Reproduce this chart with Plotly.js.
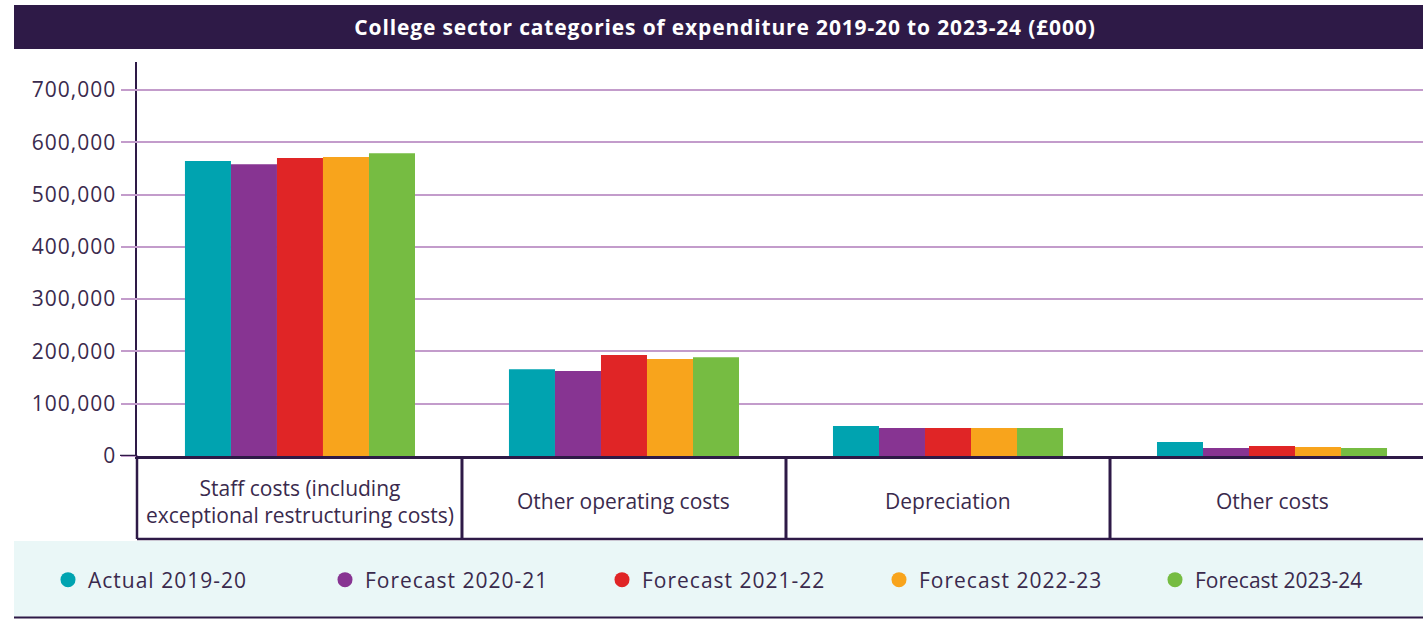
<!DOCTYPE html>
<html>
<head>
<meta charset="utf-8">
<script src="https://cdn.plot.ly/plotly-3.0.1.min.js"></script>
<style>
  html, body { margin: 0; padding: 0; background: #ffffff; }
  #chart { width: 1423px; height: 619px; }
  .legendtext { letter-spacing: 1px; }
  .ytick text { letter-spacing: 1px; }
  .yaxislayer-above { transform: translateX(3px); }
  .gtitle { letter-spacing: 0.85px; }
</style>
</head>
<body>
<div id="chart"></div>
<script>
// ---- data ----
const categories = [
  "Staff costs (including<br>exceptional restructuring costs)",
  "Other operating costs",
  "Depreciation",
  "Other costs"
];
const seriesNames = ["Actual 2019-20", "Forecast 2020-21", "Forecast 2021-22", "Forecast 2022-23", "Forecast 2023-24"];
const actual2019_20   = [564000, 166000, 57400, 26800];
const forecast2020_21 = [558000, 162500, 53500, 15300];
const forecast2021_22 = [570000, 193000, 53500, 19000];
const forecast2022_23 = [572000, 185500, 53500, 17200];
const forecast2023_24 = [579000, 189000, 53500, 15300];
const yTickValues = [0, 100000, 200000, 300000, 400000, 500000, 600000, 700000];

// ---- styles ----
const colors = ["#00a3b0", "#873492", "#e02526", "#f8a41c", "#76bc42"];
const dark = "#2e1a47";
const textColor = "#3a2a4d";
const gridColor = "#c39ccb";
const FONT = "'Open Sans', 'Noto Sans', sans-serif";

const seriesValues = [actual2019_20, forecast2020_21, forecast2021_22, forecast2022_23, forecast2023_24];

const traces = [];
seriesValues.forEach((vals, i) => {
  traces.push({
    type: "bar",
    x: categories,
    y: vals,
    name: seriesNames[i],
    marker: { color: colors[i], line: { width: 0 } },
    showlegend: false,
    hoverinfo: "skip"
  });
});
// legend-only circle markers (last one in a second legend so the row fits the page)
seriesValues.forEach((vals, i) => {
  traces.push({
    type: "scatter",
    mode: "markers",
    x: [null],
    y: [null],
    name: seriesNames[i],
    marker: { color: colors[i], size: 15, symbol: "circle" },
    showlegend: true,
    legend: i < 4 ? "legend" : "legend2",
    hoverinfo: "skip"
  });
});

const plotLeft = 137, plotRight = 1423, plotTop = 62, plotBottom = 456;
const pw = plotRight - plotLeft, ph = plotBottom - plotTop;
const px2x = p => (p - plotLeft) / pw;
const px2y = p => (plotBottom - p) / ph;

const shapes = [
  // title bar
  { type: "rect", xref: "paper", yref: "paper", x0: px2x(14), x1: 1, y0: px2y(49), y1: px2y(5),
    fillcolor: dark, line: { width: 0 }, layer: "below" },
  // legend panel
  { type: "rect", xref: "paper", yref: "paper", x0: px2x(14), x1: 1, y0: px2y(617), y1: px2y(541),
    fillcolor: "#eaf7f7", line: { width: 0 }, layer: "below" },
  { type: "line", xref: "paper", yref: "paper", x0: px2x(14), x1: 1, y0: px2y(617.5), y1: px2y(617.5),
    line: { color: dark, width: 2 } },
  // category label box bottom
  { type: "line", xref: "paper", yref: "paper", x0: 0, x1: 1, y0: px2y(539), y1: px2y(539),
    line: { color: dark, width: 2.5 } },
  // left border of label box
  { type: "line", xref: "paper", yref: "paper", x0: 0, x1: 0, y0: px2y(539), y1: 0,
    line: { color: dark, width: 2.5 } },
  // zero tick extension (dark)
  { type: "line", xref: "paper", yref: "y", x0: px2x(120), x1: 0, y0: 0, y1: 0,
    line: { color: dark, width: 2.5 } }
];
// dividers between category boxes (at category boundaries)
[0.5, 1.5, 2.5].forEach(b => {
  shapes.push({ type: "line", xref: "x", yref: "paper", x0: b, x1: b, y0: px2y(539), y1: 0,
    line: { color: dark, width: 3 } });
});

const annotations = categories.map(c => ({
  x: c, xref: "x", y: px2y(501), yref: "paper",
  text: c, showarrow: false, xanchor: "center", yanchor: "middle",
  font: { family: FONT, size: 21, color: textColor }, align: "center"
}));

const legendCommon = {
  orientation: "h",
  xanchor: "left",
  y: px2y(580),
  yanchor: "middle",
  bgcolor: "rgba(0,0,0,0)",
  borderwidth: 0,
  entrywidth: 232,
  entrywidthmode: "pixels",
  itemwidth: 30,
  font: { family: FONT, size: 21, color: textColor },
  traceorder: "normal"
};

const layout = {
  width: 1423,
  height: 619,
  margin: { l: plotLeft, r: 1423 - plotRight, t: plotTop, b: 619 - plotBottom, pad: 0, autoexpand: false },
  paper_bgcolor: "#ffffff",
  plot_bgcolor: "rgba(0,0,0,0)",
  font: { family: FONT, color: textColor },
  title: {
    text: "College sector categories of expenditure 2019-20 to 2023-24 (£000)",
    font: { family: FONT, size: 21, color: "#ffffff", weight: 700 },
    xref: "paper", x: px2x(725), xanchor: "center",
    yref: "container", y: 1 - 28 / 619, yanchor: "middle"
  },
  barmode: "group",
  bargap: 0.29,
  bargroupgap: 0,
  xaxis: {
    type: "category",
    range: [-0.503, 3.466],
    showticklabels: false,
    ticks: "",
    showgrid: false,
    zeroline: false,
    showline: true,
    linecolor: dark,
    linewidth: 2.5,
    fixedrange: true
  },
  yaxis: {
    range: [0, 753500],
    tickvals: yTickValues,
    tickformat: ",",
    ticks: "outside",
    ticklen: 17,
    tickwidth: 2,
    tickcolor: gridColor,
    tickfont: { family: FONT, size: 21, color: textColor },
    showgrid: true,
    gridcolor: gridColor,
    gridwidth: 2,
    zeroline: false,
    showline: true,
    linecolor: dark,
    linewidth: 2.5,
    fixedrange: true
  },
  showlegend: true,
  legend: Object.assign({}, legendCommon, { x: px2x(48) }),
  legend2: Object.assign({}, legendCommon, { x: px2x(1155) }),
  shapes: shapes,
  annotations: annotations
};

Plotly.newPlot("chart", traces, layout, { staticPlot: true, displayModeBar: false });
</script>
</body>
</html>
